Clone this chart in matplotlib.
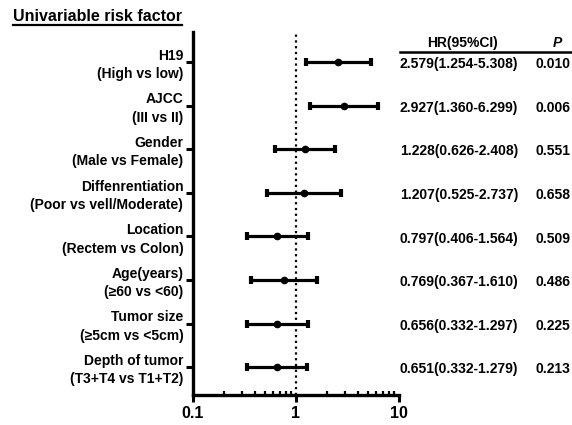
import matplotlib
matplotlib.use("Agg")
import matplotlib.pyplot as plt
from matplotlib.transforms import blended_transform_factory, ScaledTranslation
from matplotlib.ticker import LogLocator, NullFormatter

plt.rcParams['font.family'] = ['Liberation Sans', 'DejaVu Sans']
plt.rcParams['font.weight'] = 'bold'

# ---- data ----
factors = ["H19\n(High vs low)", "AJCC\n(III vs II)", "Gender\n(Male vs Female)",
           "Diffenrentiation\n(Poor vs vell/Moderate)", "Location\n(Rectem vs Colon)",
           "Age(years)\n(≥60 vs <60)", "Tumor size\n(≥5cm vs <5cm)",
           "Depth of tumor\n(T3+T4 vs T1+T2)"]
# plotted marks
hr_plot = [2.579, 2.927, 1.228, 1.207, 0.656, 0.769, 0.656, 0.651]
lo_plot = [1.254, 1.360, 0.626, 0.525, 0.332, 0.367, 0.332, 0.332]
hi_plot = [5.308, 6.299, 2.408, 2.737, 1.297, 1.610, 1.297, 1.279]
# table text
hr_text = ["2.579(1.254-5.308)", "2.927(1.360-6.299)", "1.228(0.626-2.408)",
           "1.207(0.525-2.737)", "0.797(0.406-1.564)", "0.769(0.367-1.610)",
           "0.656(0.332-1.297)", "0.651(0.332-1.279)"]
p_text = ["0.010", "0.006", "0.551", "0.658", "0.509", "0.486", "0.225", "0.213"]
xticks = [0.1, 1, 10]
xticklabels = ["0.1", "1", "10"]

W, H = 572, 425
fig = plt.figure(figsize=(W / 100, H / 100), dpi=100)
ax = fig.add_axes([193 / W, 1 - 395 / H, (399 - 193) / W, (395 - 32) / H])

ys = list(range(len(factors)))
xerr = [[h - l for h, l in zip(hr_plot, lo_plot)], [u - h for h, u in zip(hr_plot, hi_plot)]]
ax.errorbar(hr_plot, ys, xerr=xerr, fmt='o', color='black', ecolor='black',
            elinewidth=2.3, capsize=3.0, capthick=3.0, markersize=4.5, zorder=3)

ax.axvline(1, color='black', lw=1.6, linestyle=(0, (1, 1.6)), zorder=1)

ax.set_xscale('log')
ax.set_xlim(0.1, 10)
ax.set_ylim(7.64, -0.69)
ax.set_xticks(xticks)
ax.set_xticklabels(xticklabels, fontsize=11.5, fontweight='bold')
ax.xaxis.set_minor_locator(LogLocator(base=10, subs=range(2, 10)))
ax.xaxis.set_minor_formatter(NullFormatter())
ax.tick_params(axis='x', which='major', direction='out', length=5, width=2.2, pad=3)
ax.tick_params(axis='x', which='minor', direction='in', length=3, width=1.6)

ax.set_yticks(ys)
ax.set_yticklabels(factors, fontsize=10, fontweight='bold', linespacing=1.4)
ax.tick_params(axis='y', direction='out', length=5, width=2.2, pad=2)
off = ScaledTranslation(0, -3 / 100, fig.dpi_scale_trans)
for tick in ax.yaxis.get_major_ticks():
    tick.label1.set_verticalalignment('center')
    tick.label1.set_transform(tick.label1.get_transform() + off)

for s in ['top', 'right']:
    ax.spines[s].set_visible(False)
for s in ['left', 'bottom']:
    ax.spines[s].set_linewidth(2.4)

# table text
tr = blended_transform_factory(fig.transFigure, ax.transData)
for y, t, p in zip(ys, hr_text, p_text):
    ax.text(400 / W, y + 0.05, t, transform=tr, ha='left', va='center',
            fontsize=10, fontweight='bold', clip_on=False)
    ax.text(536 / W, y + 0.05, p, transform=tr, ha='left', va='center',
            fontsize=10, fontweight='bold', clip_on=False)

fig.text(463 / W, 1 - 43 / H, "HR(95%CI)", ha='center', va='center', fontsize=10, fontweight='bold')
fig.text(557 / W, 1 - 43 / H, "P", ha='center', va='center', fontsize=10, fontweight='bold', style='italic')
fig.add_artist(plt.Line2D([400 / W, 571 / W], [1 - 52 / H, 1 - 52 / H], color='black', lw=1.8))

fig.text(13 / W, 1 - 21 / H, "Univariable risk factor", ha='left', va='baseline',
         fontsize=11.5, fontweight='bold')
fig.add_artist(plt.Line2D([13 / W, 182 / W], [1 - 25 / H, 1 - 25 / H], color='black', lw=1.6))

fig.savefig("out.png", dpi=100)
